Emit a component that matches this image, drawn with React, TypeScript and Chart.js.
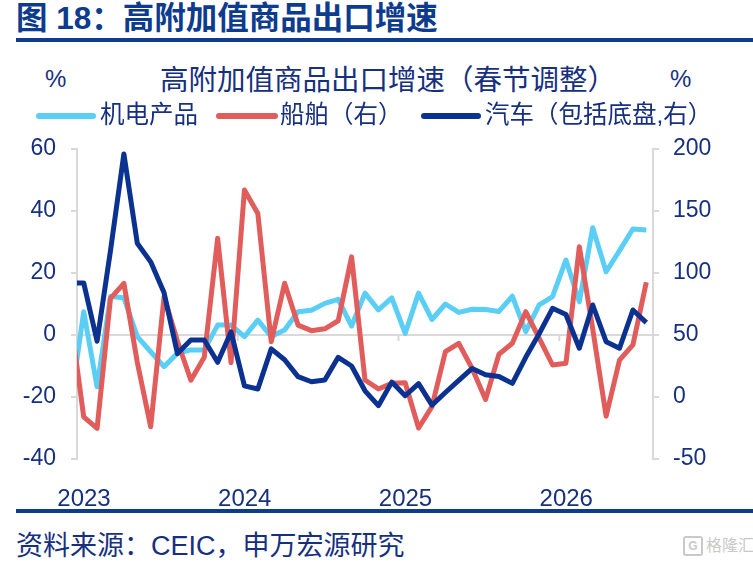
import React, { useEffect, useRef } from 'react';
import { Chart, registerables } from 'chart.js';

Chart.register(...registerables);

// Months (first entry = Dec 2022, only partly visible at the left edge)
const months = [
  '2022-12',
  '2023-01', '2023-02', '2023-03', '2023-04', '2023-05', '2023-06', '2023-07', '2023-08', '2023-09', '2023-10', '2023-11', '2023-12',
  '2024-01', '2024-02', '2024-03', '2024-04', '2024-05', '2024-06', '2024-07', '2024-08', '2024-09', '2024-10', '2024-11', '2024-12',
  '2025-01', '2025-02', '2025-03', '2025-04', '2025-05', '2025-06', '2025-07', '2025-08', '2025-09', '2025-10', '2025-11', '2025-12',
  '2026-01', '2026-02', '2026-03', '2026-04', '2026-05', '2026-06', '2026-07',
];

// 机电产品 (left axis, %)
const electro = [
  -23, 7.5, -16.7, 12.4, 12, -0.5, -5.4, -10.2, -5.9, -4.8, -4.8, 3.2, 3.2,
  -0.5, 4.8, -0.5, 1.6, 7.5, 8, 10.2, 11.5, 2.9, 13.5, 8.1, 12,
  0.5, 13.5, 5, 10, 7.3, 8.3, 8.2, 7.6, 12.5, 1.1, 9.7, 12.4,
  24.2, 10.7, 34.6, 20.4, 27.2, 34.2, 33.9,
];

// 船舶 (right axis, %)
const ships = [
  65, -16, -25.3, 79.6, 91.7, 28, -24, 80.9, 45, 13.5, 32, 128, 27.7,
  167, 148, 44.6, 91.7, 58, 53.5, 55, 61.5, 113, 13.7, 6.5, 11,
  11.5, -25, -7.8, 36.5, 43.3, 23, -2, 34.5, 43.3, 68.8, 47.5, 25.8,
  27.2, 121.2, 55, -15.5, 29.8, 42, 92.5,
];

// 汽车（包括底盘） (right axis, %)
const autos = [
  92, 92, 45, 118, 196, 124, 109, 84, 35, 46, 46, 28, 52.5,
  9, 6.5, 38.8, 30, 16.4, 12.3, 13.7, 32, 25, 5, -7, 12,
  1, 10.8, -6.5, 3.6, 13.4, 23, 18, 16.6, 11, 32, 51, 71.5,
  66.5, 39.3, 74.2, 44.6, 39.3, 70.2, 60,
];

const yearTicks = [0, 12, 24, 36];
const yearLabels = ['2023', '2024', '2025', '2026'];

const LIGHT = '#5BCEF6';
const RED = '#E15D5C';
const DARK = '#0B3290';
const TEXT = '#16307F';
const TITLE = '#0D3B8E';
const GRID = '#D9D9D9';
const FONT = '"Liberation Sans", Arial, "Noto Sans CJK SC", sans-serif';

const toPoints = (vals: number[]) => months.map((_, i) => ({ x: i - 0.5, y: vals[i] }));

const yearTickMarks = {
  id: 'yearTickMarks',
  beforeDatasetsDraw(chart: any) {
    const { ctx, scales } = chart;
    const x = scales.x;
    const y = scales.y;
    const y0 = y.getPixelForValue(0);
    ctx.save();
    ctx.strokeStyle = GRID;
    ctx.lineWidth = 2;
    yearTicks.forEach((v) => {
      if (v === 0) return;
      const px = x.getPixelForValue(v);
      ctx.beginPath();
      ctx.moveTo(px, y0);
      ctx.lineTo(px, y0 + 6);
      ctx.stroke();
    });
    ctx.restore();
  },
};

export default function App() {
  const ref = useRef<HTMLCanvasElement | null>(null);

  useEffect(() => {
    if (!ref.current) return;
    const clip = { left: 0, top: 6, right: 6, bottom: 6 };
    const common = {
      borderWidth: 5,
      pointRadius: 0,
      tension: 0,
      borderJoinStyle: 'round',
      borderCapStyle: 'butt',
      clip,
    };
    const chart = new Chart(ref.current, {
      type: 'line',
      data: {
        datasets: [
          {
            label: '汽车（包括底盘,右）',
            data: toPoints(autos),
            yAxisID: 'y1',
            borderColor: DARK,
            backgroundColor: DARK,
            order: 1,
            ...common,
          },
          {
            label: '船舶（右）',
            data: toPoints(ships),
            yAxisID: 'y1',
            borderColor: RED,
            backgroundColor: RED,
            order: 2,
            ...common,
          },
          {
            label: '机电产品',
            data: toPoints(electro),
            yAxisID: 'y',
            borderColor: LIGHT,
            backgroundColor: LIGHT,
            order: 3,
            ...common,
          },
        ],
      } as any,
      options: {
        animation: false,
        responsive: false,
        layout: { padding: { top: 29, left: 0, right: 0, bottom: 0 } },
        plugins: {
          legend: { display: false },
          tooltip: { enabled: false },
          title: { display: false },
        },
        scales: {
          x: {
            type: 'linear',
            min: 0,
            max: 43,
            afterBuildTicks: (s: any) => {
              s.ticks = yearTicks.map((v) => ({ value: v }));
            },
            afterFit: (s: any) => {
              s.height = 51;
            },
            ticks: {
              callback: (v: any) => {
                const k = yearTicks.indexOf(Number(v));
                return k >= 0 ? yearLabels[k] : '';
              },
              font: { size: 24, family: FONT },
              color: TEXT,
              padding: 18,
              labelOffset: 7,
              maxRotation: 0,
              autoSkip: false,
            },
            grid: { display: false },
            border: { display: false },
          },
          y: {
            position: 'left',
            min: -40,
            max: 60,
            afterFit: (s: any) => {
              s.width = 77;
            },
            ticks: {
              stepSize: 20,
              font: { size: 23, family: FONT },
              color: TEXT,
              padding: 15,
            },
            grid: {
              color: (ctx: any) => (ctx.tick && ctx.tick.value === 0 ? GRID : 'rgba(0,0,0,0)'),
              lineWidth: 2,
              tickLength: 6,
              tickColor: GRID,
              tickWidth: 2,
            },
            border: { color: GRID, width: 2 },
          },
          y1: {
            position: 'right',
            min: -50,
            max: 200,
            afterFit: (s: any) => {
              s.width = 100;
            },
            ticks: {
              stepSize: 50,
              font: { size: 23, family: FONT },
              color: TEXT,
              padding: 14,
            },
            grid: {
              drawOnChartArea: false,
              color: GRID,
              lineWidth: 2,
              tickLength: 6,
              tickColor: GRID,
              tickWidth: 2,
            },
            border: { color: GRID, width: 2 },
          },
        },
      } as any,
      plugins: [yearTickMarks],
    });
    return () => chart.destroy();
  }, []);

  const abs = (o: React.CSSProperties): React.CSSProperties => ({ position: 'absolute', whiteSpace: 'nowrap', ...o });

  return (
    <div
      style={{
        position: 'absolute',
        left: 0,
        top: 0,
        width: 753,
        height: 564,
        background: '#fff',
        overflow: 'hidden',
        fontFamily: FONT,
        color: TEXT,
      }}
    >
      <div style={abs({ left: 16, top: -1, fontSize: 31.5, lineHeight: '38px', fontWeight: 'bold', color: TITLE })}>
        图 18：高附加值商品出口增速
      </div>
      <div style={abs({ left: 16, top: 38, width: 737, height: 4, background: TITLE })} />

      <canvas
        ref={ref}
        width={753}
        height={390}
        style={{ position: 'absolute', left: 0, top: 120, width: 753, height: 390 }}
      />

      <div style={abs({ left: 45, top: 64, fontSize: 24, lineHeight: '30px' })}>%</div>
      <div style={abs({ left: 160, top: 63, fontSize: 28.5, lineHeight: '34px' })}>
        高附加值商品出口增速（春节调整）
      </div>
      <div style={abs({ left: 670, top: 64, fontSize: 24, lineHeight: '30px' })}>%</div>

      <div style={abs({ left: 36, top: 113, width: 60, height: 6, borderRadius: 3, background: LIGHT })} />
      <div style={abs({ left: 100, top: 100, fontSize: 24.5, lineHeight: '30px' })}>机电产品</div>
      <div style={abs({ left: 216, top: 113, width: 62, height: 6, borderRadius: 3, background: RED })} />
      <div style={abs({ left: 280, top: 100, fontSize: 24.5, lineHeight: '30px' })}>船舶（右）</div>
      <div style={abs({ left: 421, top: 113, width: 60, height: 6, borderRadius: 3, background: DARK })} />
      <div style={abs({ left: 485, top: 100, fontSize: 24.5, lineHeight: '30px' })}>汽车（包括底盘,右）</div>

      <div style={abs({ left: 16, top: 509, width: 737, height: 4, background: TITLE })} />
      <div style={abs({ left: 16, top: 530, fontSize: 27, lineHeight: '32px' })}>资料来源：CEIC，申万宏源研究</div>

      <div style={abs({ left: 683, top: 536, fontSize: 16, lineHeight: '20px', color: '#C9C9C9', display: 'flex', alignItems: 'center' })}>
        <span
          style={{
            display: 'inline-block',
            width: 16,
            height: 16,
            border: '2px solid #C9C9C9',
            borderRadius: 3,
            fontSize: 12,
            lineHeight: '16px',
            textAlign: 'center',
            marginRight: 3,
            fontWeight: 'bold',
          }}
        >
          G
        </span>
        格隆汇
      </div>
    </div>
  );
}
